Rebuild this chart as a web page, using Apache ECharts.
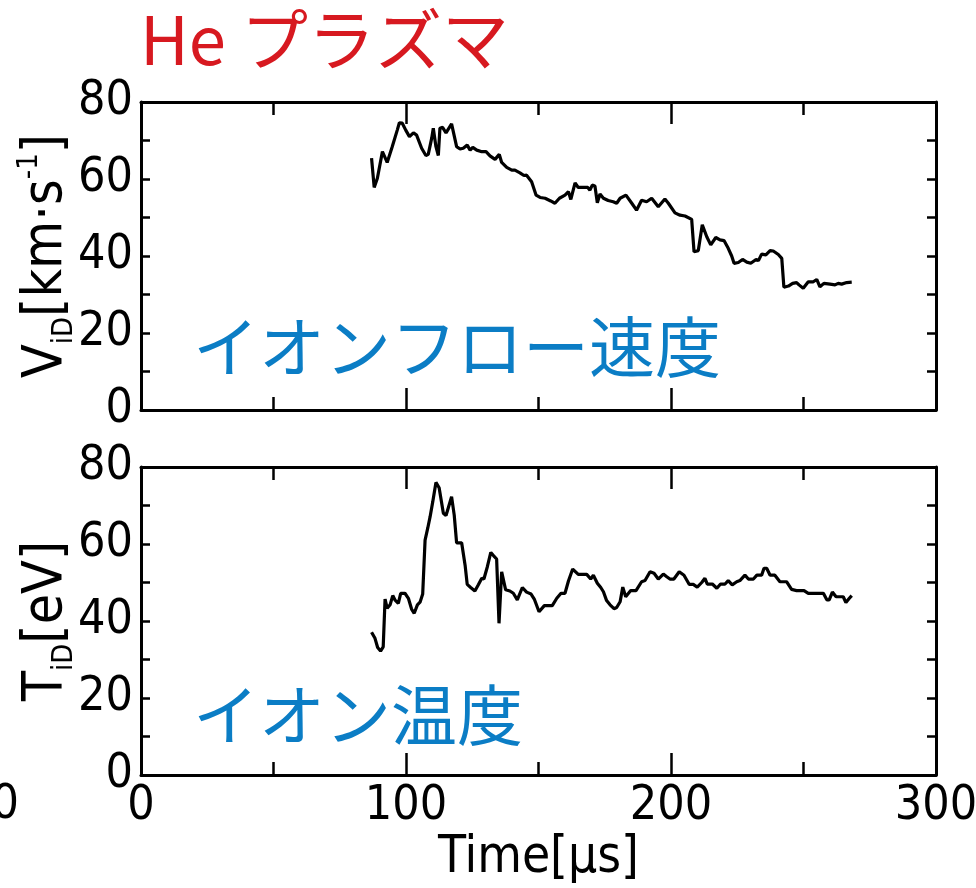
<!DOCTYPE html>
<html>
<head>
<meta charset="utf-8">
<script src="https://cdn.jsdelivr.net/npm/echarts@6/dist/echarts.min.js"></script>
<style>html,body{margin:0;padding:0;background:#fff;}#c{width:976px;height:888px;}</style>
</head>
<body>
<div id="c"></div>
<script>
// ---- data (time in µs) ----
const velTime = [87.0,88.0,89.2,91.1,92.9,94.8,96.7,97.5,98.6,99.9,101.3,102.8,104.0,105.9,107.5,108.4,109.7,110.3,111.3,112.2,112.8,113.8,115.1,117.2,119.1,120.4,121.6,123.1,124.2,125.2,126.7,128.6,130.2,131.7,133.6,134.2,135.2,136.1,138.0,139.9,141.1,143.0,144.5,145.5,147.4,149.1,150.6,152.5,154.6,156.2,157.9,160.0,161.3,162.2,163.8,165.0,166.9,168.6,169.4,170.3,171.3,172.2,173.2,174.5,176.3,178.2,179.5,180.8,183.0,185.2,187.0,188.9,190.8,192.7,195.2,197.7,199.0,201.5,203.4,205.3,207.8,208.7,210.3,211.8,213.5,215.0,216.9,218.5,220.0,221.6,222.9,223.8,225.4,227.0,228.6,230.1,232.1,233.0,234.2,235.8,237.4,238.6,240.5,241.8,242.6,244.3,245.9,247.4,248.3,249.9,251.8,253.7,255.0,256.2,257.7,260.0,261.9,263.1,264.4,266.3,268.2];
const velocity = [65.4,57.8,60.2,67.1,64.3,68.4,72.7,74.6,74.5,72.7,71.0,72.0,71.4,68.0,66.1,66.4,70.6,73.2,68.4,66.1,73.2,73.4,72.0,74.3,68.4,67.8,68.0,68.8,67.5,68.2,67.5,67.1,67.1,66.0,65.1,65.4,66.4,64.3,63.0,62.3,62.3,61.6,60.9,61.0,59.3,55.8,55.2,55.0,54.3,53.7,55.0,55.8,56.7,54.7,59.0,57.8,57.8,57.8,57.1,58.4,58.2,53.8,56.1,55.0,54.4,54.1,53.7,55.0,55.8,53.7,51.9,54.5,54.1,55.0,52.8,54.8,53.7,51.2,50.6,50.4,49.5,41.1,41.4,48.1,45.0,42.9,44.8,44.2,44.0,42.0,40.0,38.1,38.3,39.1,38.4,38.1,39.1,38.8,40.5,40.3,41.4,41.3,40.4,39.4,31.9,32.2,32.9,33.1,32.5,31.6,33.3,33.3,33.9,32.0,32.9,32.7,32.5,32.9,32.7,33.1,33.2];
const tempTime = [87.0,88.3,89.3,90.4,91.4,92.1,92.9,94.0,95.0,95.8,97.1,98.0,99.6,100.9,102.1,103.1,104.3,105.3,106.3,107.2,108.2,109.1,110.1,111.3,112.5,114.1,115.1,116.0,117.2,118.2,119.1,121.0,122.3,123.1,124.4,126.0,127.3,128.6,129.4,130.7,132.0,133.0,134.2,135.1,136.1,137.6,139.2,140.5,142.0,143.9,145.5,147.2,148.4,150.2,152.2,153.7,155.2,156.9,158.5,160.0,161.3,162.9,165.0,166.9,168.2,169.7,170.7,172.2,173.5,174.5,175.7,177.0,178.5,179.5,180.8,181.8,182.9,184.8,186.8,188.9,190.2,192.1,193.6,195.2,197.1,198.4,199.6,201.1,203.1,204.9,206.9,208.4,209.9,211.6,212.8,213.7,215.6,217.3,218.7,220.4,221.6,223.1,224.8,226.0,227.9,229.2,231.1,232.4,234.2,235.1,236.1,237.4,239.2,241.1,243.6,245.5,247.4,250.2,251.8,255.0,257.5,258.8,259.7,260.9,262.3,263.8,265.0,266.0,267.3,268.2];
const temperature = [37.1,35.5,33.1,32.2,33.3,45.7,43.3,44.2,46.6,45.5,44.6,47.2,47.2,45.9,43.1,42.0,44.2,44.9,47.0,61.0,64.1,67.1,71.0,76.0,74.6,68.0,67.4,69.5,72.3,67.5,60.3,60.3,54.5,49.5,48.7,47.8,49.4,51.1,50.9,54.1,57.8,57.0,56.1,39.4,52.8,48.1,47.8,47.2,45.5,48.7,47.5,47.0,45.7,42.4,44.0,44.0,44.0,45.9,47.2,47.2,50.4,53.5,52.1,52.1,52.1,50.9,51.9,49.8,48.7,47.6,45.3,44.2,43.2,43.5,45.0,48.8,46.3,47.9,47.9,50.2,50.5,52.8,52.4,50.9,52.2,51.5,50.9,50.9,52.8,51.9,49.5,49.5,48.8,50.0,51.1,49.6,49.6,48.5,49.6,49.6,50.5,49.4,50.2,50.5,51.9,50.9,50.9,51.9,51.9,53.7,53.7,51.9,51.9,50.2,50.2,48.2,47.9,47.9,47.2,47.2,47.2,45.5,45.5,47.5,46.3,46.3,46.3,44.8,45.9,46.6];
const xTicks = [0, 100, 200, 300];
const yTicks = [0, 20, 40, 60, 80];
const velName = ['V', 'iD', '[km·s', '-1', ']'];
const tempName = ['T', 'iD', '[eV]'];
const xName = 'Time[μs]';
const titleText = 'He プラズマ';
const velNote = 'イオンフロー速度';
const tempNote = 'イオン温度';

const chart = echarts.init(document.getElementById('c'), null, {renderer: 'canvas'});
const NUM_FONT = "'Liberation Sans Narrow','DejaVu Sans Condensed','Noto Sans',sans-serif";
const JP_FONT = "'Noto Sans CJK JP',sans-serif";
const BLACK = '#000';
const RED = '#d71920';
const BLUE = '#0b7dc5';

const pair = (xs, ys) => xs.map((x, i) => [x, ys[i]]);

const lblY = {fontFamily: NUM_FONT, fontSize: 48, color: BLACK, margin: 8,
  formatter: v => (yTicks.indexOf(v) >= 0 ? String(v) : '')};
const lblX = {fontFamily: NUM_FONT, fontSize: 48, color: BLACK, margin: 8,
  formatter: v => (xTicks.indexOf(v) >= 0 ? String(v) : '')};

function xAxes(gi, showLabels) {
  const mk = (pos) => ({type: 'value', gridIndex: gi, min: 0, max: 300, interval: 100, position: pos,
    axisLine: {show: true, onZero: false, lineStyle: {color: BLACK, width: 3}},
    axisTick: {show: true, inside: true, length: 22, lineStyle: {color: BLACK, width: 2.5}},
    minorTick: {show: true, splitNumber: 2, length: 13, lineStyle: {color: BLACK, width: 2.5}},
    splitLine: {show: false}, axisLabel: {show: false}});
  const bottom = mk('bottom');
  if (showLabels) {
    bottom.axisLabel = lblX;
    bottom.name = xName;
    bottom.nameLocation = 'middle';
    bottom.nameGap = 58;
    bottom.nameMoveOverlap = false;
    bottom.nameTextStyle = {fontFamily: NUM_FONT, fontSize: 51, color: BLACK};
  }
  return [bottom, mk('top')];
}

function richName(parts) {
  if (parts.length === 5) {
    return '{m|' + parts[0] + '}{s|' + parts[1] + '}{m|' + parts[2] + '}{p|' + parts[3] + '}{m|' + parts[4] + '}';
  }
  return '{m|' + parts[0] + '}{s|' + parts[1] + '}{m|' + parts[2] + '}';
}
const nameRich = {
  m: {fontFamily: NUM_FONT, fontSize: 55, color: BLACK, lineHeight: 64, verticalAlign: 'middle'},
  s: {fontFamily: NUM_FONT, fontSize: 29, color: BLACK, lineHeight: 64, verticalAlign: 'bottom'},
  p: {fontFamily: NUM_FONT, fontSize: 29, color: BLACK, lineHeight: 64, verticalAlign: 'top'}
};

function yAxes(gi, parts) {
  const mk = (pos) => ({type: 'value', gridIndex: gi, min: 0, max: 80, interval: 20, position: pos,
    axisLine: {show: true, onZero: false, lineStyle: {color: BLACK, width: 3}},
    axisTick: {show: true, inside: true, length: 9, lineStyle: {color: BLACK, width: 2.5}},
    minorTick: {show: true, splitNumber: 2, length: 9, lineStyle: {color: BLACK, width: 2.5}},
    splitLine: {show: false}, axisLabel: {show: false}});
  const left = mk('left');
  left.axisLabel = lblY;
  left.name = richName(parts);
  left.nameLocation = 'middle';
  left.nameGap = 62;
  left.nameMoveOverlap = false;
  left.nameRotate = 90;
  left.nameTextStyle = {rich: nameRich};
  return [left, mk('right')];
}

const xa = xAxes(0, false).concat(xAxes(1, true));
const ya = yAxes(0, velName).concat(yAxes(1, tempName));

const option = {
  animation: false,
  backgroundColor: '#fff',
  grid: [
    {left: 141, top: 102, width: 795, height: 308, show: false, containLabel: false, outerBoundsMode: 'none'},
    {left: 141, top: 467, width: 795, height: 308, show: false, containLabel: false, outerBoundsMode: 'none'}
  ],
  xAxis: xa,
  yAxis: ya,
  series: [
    {type: 'line', xAxisIndex: 0, yAxisIndex: 0, data: pair(velTime, velocity), showSymbol: false,
      lineStyle: {color: BLACK, width: 3.2}, itemStyle: {color: BLACK}},
    {type: 'line', xAxisIndex: 2, yAxisIndex: 2, data: pair(tempTime, temperature), showSymbol: false,
      lineStyle: {color: BLACK, width: 3.2}, itemStyle: {color: BLACK}}
  ],
  graphic: [
    {type: 'text', left: 140, top: 6, style: {text: titleText, fontFamily: JP_FONT, fontSize: 67, fill: RED}},
    {type: 'text', left: 193, top: 314, style: {text: velNote, fontFamily: JP_FONT, fontSize: 66, fill: BLUE}},
    {type: 'text', left: 193, top: 682, style: {text: tempNote, fontFamily: JP_FONT, fontSize: 66, fill: BLUE}},
    {type: 'text', right: 957, top: 782, style: {text: '300', fontFamily: NUM_FONT, fontSize: 48, fill: BLACK}}
  ]
};
chart.setOption(option);
</script>
</body>
</html>
